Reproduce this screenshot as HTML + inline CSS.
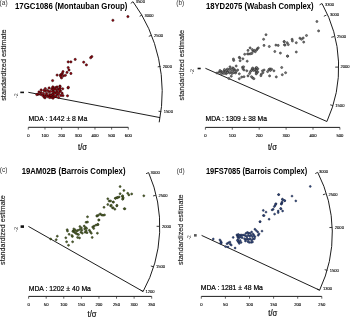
<!DOCTYPE html>
<html><head><meta charset="utf-8"><style>
html,body{margin:0;padding:0;background:#fff;}
svg{display:block;font-family:"Liberation Sans", sans-serif;filter:blur(0.3px);}
text{filter:grayscale(1);}
</style></head><body>
<svg width="350" height="317" viewBox="0 0 350 317">
<text x="-0.4" y="5.0" font-size="6.5" fill="#333">(a)</text>
<text x="15" y="9.0" font-size="8.4" font-weight="bold" fill="#000" textLength="112.4" lengthAdjust="spacingAndGlyphs">17GC1086 (Montauban Group)</text>
<text transform="translate(5.6,100.8) rotate(-90)" x="0" y="0" font-size="7.6" fill="#222" stroke="#222" stroke-width="0.15" textLength="71.4" lengthAdjust="spacingAndGlyphs">standardized estimate</text>
<path d="M133,1.7 A134.1,144.9 0 0 1 159.2,122.3" fill="none" stroke="#111" stroke-width="0.95"/>
<line x1="133.00" y1="1.70" x2="130.75" y2="3.37" stroke="#222" stroke-width="0.9"/>
<text x="135.80" y="3.15" font-size="4.1" fill="#000" stroke="#000" stroke-width="0.1">3500</text>
<line x1="142.10" y1="14.90" x2="139.68" y2="16.31" stroke="#222" stroke-width="0.9"/>
<text x="144.50" y="16.50" font-size="4.1" fill="#000" stroke="#000" stroke-width="0.1">3000</text>
<line x1="151.40" y1="35.30" x2="148.80" y2="36.33" stroke="#222" stroke-width="0.9"/>
<text x="154.00" y="36.95" font-size="4.1" fill="#000" stroke="#000" stroke-width="0.1">2500</text>
<line x1="160.50" y1="66.40" x2="157.74" y2="66.86" stroke="#222" stroke-width="0.9"/>
<text x="162.80" y="68.05" font-size="4.1" fill="#000" stroke="#000" stroke-width="0.1">2000</text>
<line x1="161.30" y1="111.60" x2="158.52" y2="111.25" stroke="#222" stroke-width="0.9"/>
<text x="163.80" y="113.25" font-size="4.1" fill="#000" stroke="#000" stroke-width="0.1">1500</text>
<line x1="28.3" y1="92.3" x2="160" y2="117.6" stroke="#111" stroke-width="0.95"/>
<rect x="20.3" y="91.6" width="3.7" height="1.6" fill="#111"/>
<text transform="translate(18.1,98.0) rotate(-90)" font-size="5" fill="#444" textLength="4.7" lengthAdjust="spacingAndGlyphs">-2</text>
<circle cx="38" cy="94.3" r="1.15" fill="#980010" stroke="#200000" stroke-width="0.5"/>
<circle cx="41.1" cy="90" r="1.15" fill="#980010" stroke="#200000" stroke-width="0.5"/>
<circle cx="41.1" cy="92.6" r="1.15" fill="#980010" stroke="#200000" stroke-width="0.5"/>
<circle cx="40.3" cy="94.3" r="1.15" fill="#980010" stroke="#200000" stroke-width="0.5"/>
<circle cx="42.6" cy="95.4" r="1.15" fill="#980010" stroke="#200000" stroke-width="0.5"/>
<circle cx="43.4" cy="93.4" r="1.15" fill="#980010" stroke="#200000" stroke-width="0.5"/>
<circle cx="44.6" cy="95.7" r="1.15" fill="#980010" stroke="#200000" stroke-width="0.5"/>
<circle cx="45.4" cy="91.1" r="1.15" fill="#980010" stroke="#200000" stroke-width="0.5"/>
<circle cx="46.6" cy="93.4" r="1.15" fill="#980010" stroke="#200000" stroke-width="0.5"/>
<circle cx="47.4" cy="90.3" r="1.15" fill="#980010" stroke="#200000" stroke-width="0.5"/>
<circle cx="47.4" cy="96.6" r="1.15" fill="#980010" stroke="#200000" stroke-width="0.5"/>
<circle cx="49.1" cy="88" r="1.15" fill="#980010" stroke="#200000" stroke-width="0.5"/>
<circle cx="48.9" cy="91.7" r="1.15" fill="#980010" stroke="#200000" stroke-width="0.5"/>
<circle cx="49.7" cy="94.3" r="1.15" fill="#980010" stroke="#200000" stroke-width="0.5"/>
<circle cx="50.6" cy="91.4" r="1.15" fill="#980010" stroke="#200000" stroke-width="0.5"/>
<circle cx="51.1" cy="97.4" r="1.15" fill="#980010" stroke="#200000" stroke-width="0.5"/>
<circle cx="51.7" cy="88.9" r="1.15" fill="#980010" stroke="#200000" stroke-width="0.5"/>
<circle cx="52.3" cy="94.3" r="1.15" fill="#980010" stroke="#200000" stroke-width="0.5"/>
<circle cx="52.9" cy="87.4" r="1.15" fill="#980010" stroke="#200000" stroke-width="0.5"/>
<circle cx="53.4" cy="91.1" r="1.15" fill="#980010" stroke="#200000" stroke-width="0.5"/>
<circle cx="53.4" cy="96.3" r="1.15" fill="#980010" stroke="#200000" stroke-width="0.5"/>
<circle cx="52.6" cy="80.6" r="1.15" fill="#980010" stroke="#200000" stroke-width="0.5"/>
<circle cx="52.9" cy="86.9" r="1.15" fill="#980010" stroke="#200000" stroke-width="0.5"/>
<circle cx="53.3" cy="89.5" r="1.15" fill="#980010" stroke="#200000" stroke-width="0.5"/>
<circle cx="52.9" cy="91.7" r="1.15" fill="#980010" stroke="#200000" stroke-width="0.5"/>
<circle cx="52.9" cy="94.5" r="1.15" fill="#980010" stroke="#200000" stroke-width="0.5"/>
<circle cx="54.5" cy="96.7" r="1.15" fill="#980010" stroke="#200000" stroke-width="0.5"/>
<circle cx="55.5" cy="87.6" r="1.15" fill="#980010" stroke="#200000" stroke-width="0.5"/>
<circle cx="55.2" cy="92.6" r="1.15" fill="#980010" stroke="#200000" stroke-width="0.5"/>
<circle cx="56.7" cy="90.1" r="1.15" fill="#980010" stroke="#200000" stroke-width="0.5"/>
<circle cx="57" cy="94.5" r="1.15" fill="#980010" stroke="#200000" stroke-width="0.5"/>
<circle cx="58.3" cy="88.8" r="1.15" fill="#980010" stroke="#200000" stroke-width="0.5"/>
<circle cx="58.6" cy="94.5" r="1.15" fill="#980010" stroke="#200000" stroke-width="0.5"/>
<circle cx="59.9" cy="86.3" r="1.15" fill="#980010" stroke="#200000" stroke-width="0.5"/>
<circle cx="60.2" cy="88.2" r="1.15" fill="#980010" stroke="#200000" stroke-width="0.5"/>
<circle cx="58.6" cy="97.4" r="1.15" fill="#980010" stroke="#200000" stroke-width="0.5"/>
<circle cx="62.1" cy="93.2" r="1.15" fill="#980010" stroke="#200000" stroke-width="0.5"/>
<circle cx="62.7" cy="88.8" r="1.15" fill="#980010" stroke="#200000" stroke-width="0.5"/>
<circle cx="68.1" cy="87.9" r="1.15" fill="#980010" stroke="#200000" stroke-width="0.5"/>
<circle cx="67.5" cy="95.8" r="1.15" fill="#980010" stroke="#200000" stroke-width="0.5"/>
<circle cx="45" cy="97.8" r="1.15" fill="#980010" stroke="#200000" stroke-width="0.5"/>
<circle cx="53" cy="98.2" r="1.15" fill="#980010" stroke="#200000" stroke-width="0.5"/>
<circle cx="57.0" cy="87.0" r="1.15" fill="#980010" stroke="#200000" stroke-width="0.5"/>
<circle cx="45.3" cy="88.6" r="1.15" fill="#980010" stroke="#200000" stroke-width="0.5"/>
<circle cx="43.8" cy="90.4" r="1.15" fill="#980010" stroke="#200000" stroke-width="0.5"/>
<circle cx="59.2" cy="92.4" r="1.15" fill="#980010" stroke="#200000" stroke-width="0.5"/>
<circle cx="49.1" cy="95.9" r="1.15" fill="#980010" stroke="#200000" stroke-width="0.5"/>
<circle cx="63.0" cy="95.6" r="1.15" fill="#980010" stroke="#200000" stroke-width="0.5"/>
<circle cx="44" cy="97" r="1.15" fill="#980010" stroke="#200000" stroke-width="0.5"/>
<circle cx="49.5" cy="97.5" r="1.15" fill="#980010" stroke="#200000" stroke-width="0.5"/>
<circle cx="56" cy="96.5" r="1.15" fill="#980010" stroke="#200000" stroke-width="0.5"/>
<circle cx="60.5" cy="91" r="1.15" fill="#980010" stroke="#200000" stroke-width="0.5"/>
<circle cx="61" cy="95.5" r="1.15" fill="#980010" stroke="#200000" stroke-width="0.5"/>
<circle cx="55" cy="89" r="1.15" fill="#980010" stroke="#200000" stroke-width="0.5"/>
<circle cx="57" cy="92" r="1.15" fill="#980010" stroke="#200000" stroke-width="0.5"/>
<circle cx="59.5" cy="90" r="1.15" fill="#980010" stroke="#200000" stroke-width="0.5"/>
<circle cx="46.5" cy="95" r="1.15" fill="#980010" stroke="#200000" stroke-width="0.5"/>
<circle cx="51" cy="95.5" r="1.15" fill="#980010" stroke="#200000" stroke-width="0.5"/>
<circle cx="54.5" cy="93.5" r="1.15" fill="#980010" stroke="#200000" stroke-width="0.5"/>
<circle cx="39" cy="92" r="1.15" fill="#980010" stroke="#200000" stroke-width="0.5"/>
<circle cx="36.8" cy="94.6" r="1.15" fill="#980010" stroke="#200000" stroke-width="0.5"/>
<circle cx="91.8" cy="56.6" r="1.15" fill="#980010" stroke="#200000" stroke-width="0.5"/>
<circle cx="90.7" cy="57.7" r="1.15" fill="#980010" stroke="#200000" stroke-width="0.5"/>
<circle cx="75.2" cy="59.4" r="1.15" fill="#980010" stroke="#200000" stroke-width="0.5"/>
<circle cx="68.2" cy="61.9" r="1.15" fill="#980010" stroke="#200000" stroke-width="0.5"/>
<circle cx="70.9" cy="61.9" r="1.15" fill="#980010" stroke="#200000" stroke-width="0.5"/>
<circle cx="83.7" cy="62.2" r="1.15" fill="#980010" stroke="#200000" stroke-width="0.5"/>
<circle cx="86.4" cy="64.9" r="1.15" fill="#980010" stroke="#200000" stroke-width="0.5"/>
<circle cx="68.2" cy="67.6" r="1.15" fill="#980010" stroke="#200000" stroke-width="0.5"/>
<circle cx="69" cy="70" r="1.15" fill="#980010" stroke="#200000" stroke-width="0.5"/>
<circle cx="67" cy="72.4" r="1.15" fill="#980010" stroke="#200000" stroke-width="0.5"/>
<circle cx="70.9" cy="73.5" r="1.15" fill="#980010" stroke="#200000" stroke-width="0.5"/>
<circle cx="63" cy="71.6" r="1.15" fill="#980010" stroke="#200000" stroke-width="0.5"/>
<circle cx="62.3" cy="73.5" r="1.15" fill="#980010" stroke="#200000" stroke-width="0.5"/>
<circle cx="61.5" cy="74.3" r="1.15" fill="#980010" stroke="#200000" stroke-width="0.5"/>
<circle cx="60.3" cy="75.1" r="1.15" fill="#980010" stroke="#200000" stroke-width="0.5"/>
<circle cx="57.1" cy="75.1" r="1.15" fill="#980010" stroke="#200000" stroke-width="0.5"/>
<circle cx="63.4" cy="75.9" r="1.15" fill="#980010" stroke="#200000" stroke-width="0.5"/>
<circle cx="65.4" cy="75.3" r="1.15" fill="#980010" stroke="#200000" stroke-width="0.5"/>
<circle cx="61.5" cy="77.9" r="1.15" fill="#980010" stroke="#200000" stroke-width="0.5"/>
<circle cx="60.7" cy="76.3" r="1.15" fill="#980010" stroke="#200000" stroke-width="0.5"/>
<circle cx="60" cy="86.2" r="1.15" fill="#980010" stroke="#200000" stroke-width="0.5"/>
<circle cx="68.3" cy="87.3" r="1.15" fill="#980010" stroke="#200000" stroke-width="0.5"/>
<circle cx="112.9" cy="20.3" r="1.15" fill="#980010" stroke="#200000" stroke-width="0.5"/>
<circle cx="127.9" cy="16.6" r="1.15" fill="#980010" stroke="#200000" stroke-width="0.5"/>
<text x="28.6" y="121.3" font-size="7.2" fill="#000" stroke="#000" stroke-width="0.22" textLength="58.8" lengthAdjust="spacingAndGlyphs">MDA : 1442 ± 8 Ma</text>
<line x1="28.3" y1="127.3" x2="128.3" y2="127.3" stroke="#111" stroke-width="0.95"/>
<line x1="28.30" y1="127.3" x2="28.30" y2="129.6" stroke="#222" stroke-width="0.7"/>
<text x="28.30" y="136.8" font-size="4.2" fill="#000" stroke="#000" stroke-width="0.12" text-anchor="middle">0</text>
<line x1="44.97" y1="127.3" x2="44.97" y2="129.6" stroke="#222" stroke-width="0.7"/>
<text x="44.97" y="136.8" font-size="4.2" fill="#000" stroke="#000" stroke-width="0.12" text-anchor="middle">100</text>
<line x1="61.63" y1="127.3" x2="61.63" y2="129.6" stroke="#222" stroke-width="0.7"/>
<text x="61.63" y="136.8" font-size="4.2" fill="#000" stroke="#000" stroke-width="0.12" text-anchor="middle">200</text>
<line x1="78.30" y1="127.3" x2="78.30" y2="129.6" stroke="#222" stroke-width="0.7"/>
<text x="78.30" y="136.8" font-size="4.2" fill="#000" stroke="#000" stroke-width="0.12" text-anchor="middle">300</text>
<line x1="94.97" y1="127.3" x2="94.97" y2="129.6" stroke="#222" stroke-width="0.7"/>
<text x="94.97" y="136.8" font-size="4.2" fill="#000" stroke="#000" stroke-width="0.12" text-anchor="middle">400</text>
<line x1="111.63" y1="127.3" x2="111.63" y2="129.6" stroke="#222" stroke-width="0.7"/>
<text x="111.63" y="136.8" font-size="4.2" fill="#000" stroke="#000" stroke-width="0.12" text-anchor="middle">500</text>
<line x1="128.30" y1="127.3" x2="128.30" y2="129.6" stroke="#222" stroke-width="0.7"/>
<text x="128.30" y="136.8" font-size="4.2" fill="#000" stroke="#000" stroke-width="0.12" text-anchor="middle">600</text>
<text x="78.1" y="150.1" font-size="8.2" fill="#111" stroke="#111" stroke-width="0.2" textLength="9" lengthAdjust="spacingAndGlyphs">t/σ</text>
<text x="176.3" y="5.0" font-size="6.5" fill="#333">(b)</text>
<text x="205.9" y="9.0" font-size="8.4" font-weight="bold" fill="#000" textLength="107.8" lengthAdjust="spacingAndGlyphs">18YD2075 (Wabash Complex)</text>
<text transform="translate(183.5,100.4) rotate(-90)" x="0" y="0" font-size="7.6" fill="#222" stroke="#222" stroke-width="0.15" textLength="70.4" lengthAdjust="spacingAndGlyphs">standardized estimate</text>
<path d="M322,3.5 A133.05,131.76 0 0 1 326.9,121.5" fill="none" stroke="#111" stroke-width="0.95"/>
<line x1="322.00" y1="3.50" x2="319.56" y2="4.88" stroke="#222" stroke-width="0.9"/>
<text x="324.90" y="6.45" font-size="4.1" fill="#000" stroke="#000" stroke-width="0.1">3300</text>
<line x1="326.40" y1="15.10" x2="323.85" y2="16.25" stroke="#222" stroke-width="0.9"/>
<text x="330.00" y="16.15" font-size="4.1" fill="#000" stroke="#000" stroke-width="0.1">3000</text>
<line x1="334.00" y1="36.60" x2="331.28" y2="37.28" stroke="#222" stroke-width="0.9"/>
<text x="336.90" y="37.95" font-size="4.1" fill="#000" stroke="#000" stroke-width="0.1">2500</text>
<line x1="338.00" y1="67.10" x2="335.20" y2="67.13" stroke="#222" stroke-width="0.9"/>
<text x="340.50" y="68.45" font-size="4.1" fill="#000" stroke="#000" stroke-width="0.1">2000</text>
<line x1="332.90" y1="105.60" x2="330.22" y2="104.80" stroke="#222" stroke-width="0.9"/>
<text x="335.30" y="107.25" font-size="4.1" fill="#000" stroke="#000" stroke-width="0.1">1500</text>
<line x1="205.4" y1="68.3" x2="326.9" y2="121.5" stroke="#111" stroke-width="0.95"/>
<rect x="197.6" y="67.7" width="3.1" height="1.6" fill="#111"/>
<text transform="translate(194.20000000000002,74.2) rotate(-90)" font-size="5" fill="#444" textLength="5.2" lengthAdjust="spacingAndGlyphs">-2</text>
<circle cx="219.1" cy="72.2" r="1.05" fill="#7a7a7a" stroke="#1a1a1a" stroke-width="0.5"/>
<circle cx="221" cy="71.4" r="1.05" fill="#7a7a7a" stroke="#1a1a1a" stroke-width="0.5"/>
<circle cx="222.2" cy="72.6" r="1.05" fill="#7a7a7a" stroke="#1a1a1a" stroke-width="0.5"/>
<circle cx="223.8" cy="71" r="1.05" fill="#7a7a7a" stroke="#1a1a1a" stroke-width="0.5"/>
<circle cx="225.4" cy="71.8" r="1.05" fill="#7a7a7a" stroke="#1a1a1a" stroke-width="0.5"/>
<circle cx="226.6" cy="70.3" r="1.05" fill="#7a7a7a" stroke="#1a1a1a" stroke-width="0.5"/>
<circle cx="226.2" cy="73.8" r="1.05" fill="#7a7a7a" stroke="#1a1a1a" stroke-width="0.5"/>
<circle cx="228.1" cy="71.8" r="1.05" fill="#7a7a7a" stroke="#1a1a1a" stroke-width="0.5"/>
<circle cx="229.3" cy="69.5" r="1.05" fill="#7a7a7a" stroke="#1a1a1a" stroke-width="0.5"/>
<circle cx="229.7" cy="73" r="1.05" fill="#7a7a7a" stroke="#1a1a1a" stroke-width="0.5"/>
<circle cx="230.9" cy="68.7" r="1.05" fill="#7a7a7a" stroke="#1a1a1a" stroke-width="0.5"/>
<circle cx="231.3" cy="71.4" r="1.05" fill="#7a7a7a" stroke="#1a1a1a" stroke-width="0.5"/>
<circle cx="232.9" cy="67.9" r="1.05" fill="#7a7a7a" stroke="#1a1a1a" stroke-width="0.5"/>
<circle cx="233.3" cy="70.3" r="1.05" fill="#7a7a7a" stroke="#1a1a1a" stroke-width="0.5"/>
<circle cx="233.7" cy="72.6" r="1.05" fill="#7a7a7a" stroke="#1a1a1a" stroke-width="0.5"/>
<circle cx="231.3" cy="76.2" r="1.05" fill="#7a7a7a" stroke="#1a1a1a" stroke-width="0.5"/>
<circle cx="228.9" cy="78.5" r="1.05" fill="#7a7a7a" stroke="#1a1a1a" stroke-width="0.5"/>
<circle cx="233.7" cy="60.4" r="1.05" fill="#7a7a7a" stroke="#1a1a1a" stroke-width="0.5"/>
<circle cx="217" cy="73" r="1.05" fill="#7a7a7a" stroke="#1a1a1a" stroke-width="0.5"/>
<circle cx="224.5" cy="69.5" r="1.05" fill="#7a7a7a" stroke="#1a1a1a" stroke-width="0.5"/>
<circle cx="227.5" cy="69" r="1.05" fill="#7a7a7a" stroke="#1a1a1a" stroke-width="0.5"/>
<circle cx="220" cy="70.5" r="1.05" fill="#7a7a7a" stroke="#1a1a1a" stroke-width="0.5"/>
<circle cx="230" cy="66.8" r="1.05" fill="#7a7a7a" stroke="#1a1a1a" stroke-width="0.5"/>
<circle cx="224" cy="73.5" r="1.05" fill="#7a7a7a" stroke="#1a1a1a" stroke-width="0.5"/>
<circle cx="227.5" cy="72.5" r="1.05" fill="#7a7a7a" stroke="#1a1a1a" stroke-width="0.5"/>
<circle cx="232" cy="73.5" r="1.05" fill="#7a7a7a" stroke="#1a1a1a" stroke-width="0.5"/>
<circle cx="235.5" cy="73" r="1.05" fill="#7a7a7a" stroke="#1a1a1a" stroke-width="0.5"/>
<circle cx="221.5" cy="73.8" r="1.05" fill="#7a7a7a" stroke="#1a1a1a" stroke-width="0.5"/>
<circle cx="239.3" cy="57.4" r="1.05" fill="#7a7a7a" stroke="#1a1a1a" stroke-width="0.5"/>
<circle cx="242.9" cy="58.8" r="1.05" fill="#7a7a7a" stroke="#1a1a1a" stroke-width="0.5"/>
<circle cx="240.1" cy="60.7" r="1.05" fill="#7a7a7a" stroke="#1a1a1a" stroke-width="0.5"/>
<circle cx="247.2" cy="61.2" r="1.05" fill="#7a7a7a" stroke="#1a1a1a" stroke-width="0.5"/>
<circle cx="236.2" cy="66" r="1.05" fill="#7a7a7a" stroke="#1a1a1a" stroke-width="0.5"/>
<circle cx="235" cy="70" r="1.05" fill="#7a7a7a" stroke="#1a1a1a" stroke-width="0.5"/>
<circle cx="233.8" cy="68.8" r="1.05" fill="#7a7a7a" stroke="#1a1a1a" stroke-width="0.5"/>
<circle cx="236.2" cy="71.6" r="1.05" fill="#7a7a7a" stroke="#1a1a1a" stroke-width="0.5"/>
<circle cx="237.7" cy="70" r="1.05" fill="#7a7a7a" stroke="#1a1a1a" stroke-width="0.5"/>
<circle cx="242.5" cy="67.2" r="1.05" fill="#7a7a7a" stroke="#1a1a1a" stroke-width="0.5"/>
<circle cx="243.6" cy="66.8" r="1.05" fill="#7a7a7a" stroke="#1a1a1a" stroke-width="0.5"/>
<circle cx="242.9" cy="68.8" r="1.05" fill="#7a7a7a" stroke="#1a1a1a" stroke-width="0.5"/>
<circle cx="244" cy="70" r="1.05" fill="#7a7a7a" stroke="#1a1a1a" stroke-width="0.5"/>
<circle cx="246.8" cy="70.8" r="1.05" fill="#7a7a7a" stroke="#1a1a1a" stroke-width="0.5"/>
<circle cx="239.3" cy="73.8" r="1.05" fill="#7a7a7a" stroke="#1a1a1a" stroke-width="0.5"/>
<circle cx="241.7" cy="77.1" r="1.05" fill="#7a7a7a" stroke="#1a1a1a" stroke-width="0.5"/>
<circle cx="244" cy="76.7" r="1.05" fill="#7a7a7a" stroke="#1a1a1a" stroke-width="0.5"/>
<circle cx="239.3" cy="78.7" r="1.05" fill="#7a7a7a" stroke="#1a1a1a" stroke-width="0.5"/>
<circle cx="248" cy="75.9" r="1.05" fill="#7a7a7a" stroke="#1a1a1a" stroke-width="0.5"/>
<circle cx="249.6" cy="73.5" r="1.05" fill="#7a7a7a" stroke="#1a1a1a" stroke-width="0.5"/>
<circle cx="250.4" cy="71.6" r="1.05" fill="#7a7a7a" stroke="#1a1a1a" stroke-width="0.5"/>
<circle cx="251.5" cy="70.4" r="1.05" fill="#7a7a7a" stroke="#1a1a1a" stroke-width="0.5"/>
<circle cx="252.3" cy="68.8" r="1.05" fill="#7a7a7a" stroke="#1a1a1a" stroke-width="0.5"/>
<circle cx="252.7" cy="68" r="1.05" fill="#7a7a7a" stroke="#1a1a1a" stroke-width="0.5"/>
<circle cx="253.5" cy="70.4" r="1.05" fill="#7a7a7a" stroke="#1a1a1a" stroke-width="0.5"/>
<circle cx="254.7" cy="69.6" r="1.05" fill="#7a7a7a" stroke="#1a1a1a" stroke-width="0.5"/>
<circle cx="255.9" cy="68" r="1.05" fill="#7a7a7a" stroke="#1a1a1a" stroke-width="0.5"/>
<circle cx="256.7" cy="68.8" r="1.05" fill="#7a7a7a" stroke="#1a1a1a" stroke-width="0.5"/>
<circle cx="255.9" cy="71.6" r="1.05" fill="#7a7a7a" stroke="#1a1a1a" stroke-width="0.5"/>
<circle cx="256.7" cy="73.1" r="1.05" fill="#7a7a7a" stroke="#1a1a1a" stroke-width="0.5"/>
<circle cx="251.5" cy="76.7" r="1.05" fill="#7a7a7a" stroke="#1a1a1a" stroke-width="0.5"/>
<circle cx="252.7" cy="77.9" r="1.05" fill="#7a7a7a" stroke="#1a1a1a" stroke-width="0.5"/>
<circle cx="253.9" cy="78.7" r="1.05" fill="#7a7a7a" stroke="#1a1a1a" stroke-width="0.5"/>
<circle cx="256.6" cy="67.6" r="1.05" fill="#7a7a7a" stroke="#1a1a1a" stroke-width="0.5"/>
<circle cx="257.8" cy="68.8" r="1.05" fill="#7a7a7a" stroke="#1a1a1a" stroke-width="0.5"/>
<circle cx="256.6" cy="70.8" r="1.05" fill="#7a7a7a" stroke="#1a1a1a" stroke-width="0.5"/>
<circle cx="257.8" cy="72" r="1.05" fill="#7a7a7a" stroke="#1a1a1a" stroke-width="0.5"/>
<circle cx="256.2" cy="73.9" r="1.05" fill="#7a7a7a" stroke="#1a1a1a" stroke-width="0.5"/>
<circle cx="262.5" cy="70.8" r="1.05" fill="#7a7a7a" stroke="#1a1a1a" stroke-width="0.5"/>
<circle cx="264.1" cy="70" r="1.05" fill="#7a7a7a" stroke="#1a1a1a" stroke-width="0.5"/>
<circle cx="262.9" cy="72.7" r="1.05" fill="#7a7a7a" stroke="#1a1a1a" stroke-width="0.5"/>
<circle cx="261.3" cy="74.3" r="1.05" fill="#7a7a7a" stroke="#1a1a1a" stroke-width="0.5"/>
<circle cx="260.9" cy="75.7" r="1.05" fill="#7a7a7a" stroke="#1a1a1a" stroke-width="0.5"/>
<circle cx="267.6" cy="71.6" r="1.05" fill="#7a7a7a" stroke="#1a1a1a" stroke-width="0.5"/>
<circle cx="268.8" cy="69.6" r="1.05" fill="#7a7a7a" stroke="#1a1a1a" stroke-width="0.5"/>
<circle cx="270" cy="68.8" r="1.05" fill="#7a7a7a" stroke="#1a1a1a" stroke-width="0.5"/>
<circle cx="271.6" cy="69.2" r="1.05" fill="#7a7a7a" stroke="#1a1a1a" stroke-width="0.5"/>
<circle cx="270.4" cy="70.4" r="1.05" fill="#7a7a7a" stroke="#1a1a1a" stroke-width="0.5"/>
<circle cx="273.9" cy="70.8" r="1.05" fill="#7a7a7a" stroke="#1a1a1a" stroke-width="0.5"/>
<circle cx="269.6" cy="75.9" r="1.05" fill="#7a7a7a" stroke="#1a1a1a" stroke-width="0.5"/>
<circle cx="276.3" cy="76.9" r="1.05" fill="#7a7a7a" stroke="#1a1a1a" stroke-width="0.5"/>
<circle cx="287.6" cy="56.2" r="1.05" fill="#7a7a7a" stroke="#1a1a1a" stroke-width="0.5"/>
<circle cx="281.7" cy="67.5" r="1.05" fill="#7a7a7a" stroke="#1a1a1a" stroke-width="0.5"/>
<circle cx="285.6" cy="72.7" r="1.05" fill="#7a7a7a" stroke="#1a1a1a" stroke-width="0.5"/>
<circle cx="282.3" cy="74.7" r="1.05" fill="#7a7a7a" stroke="#1a1a1a" stroke-width="0.5"/>
<circle cx="233.4" cy="59" r="1.05" fill="#7a7a7a" stroke="#1a1a1a" stroke-width="0.5"/>
<circle cx="239.9" cy="58" r="1.05" fill="#7a7a7a" stroke="#1a1a1a" stroke-width="0.5"/>
<circle cx="244.7" cy="54.3" r="1.05" fill="#7a7a7a" stroke="#1a1a1a" stroke-width="0.5"/>
<circle cx="247.6" cy="53.9" r="1.05" fill="#7a7a7a" stroke="#1a1a1a" stroke-width="0.5"/>
<circle cx="248.9" cy="54" r="1.05" fill="#7a7a7a" stroke="#1a1a1a" stroke-width="0.5"/>
<circle cx="250.6" cy="53.7" r="1.05" fill="#7a7a7a" stroke="#1a1a1a" stroke-width="0.5"/>
<circle cx="248" cy="50.4" r="1.05" fill="#7a7a7a" stroke="#1a1a1a" stroke-width="0.5"/>
<circle cx="250.1" cy="47.9" r="1.05" fill="#7a7a7a" stroke="#1a1a1a" stroke-width="0.5"/>
<circle cx="252.3" cy="49.6" r="1.05" fill="#7a7a7a" stroke="#1a1a1a" stroke-width="0.5"/>
<circle cx="253.1" cy="51.3" r="1.05" fill="#7a7a7a" stroke="#1a1a1a" stroke-width="0.5"/>
<circle cx="254.4" cy="50.4" r="1.05" fill="#7a7a7a" stroke="#1a1a1a" stroke-width="0.5"/>
<circle cx="255.3" cy="51.7" r="1.05" fill="#7a7a7a" stroke="#1a1a1a" stroke-width="0.5"/>
<circle cx="256.6" cy="50" r="1.05" fill="#7a7a7a" stroke="#1a1a1a" stroke-width="0.5"/>
<circle cx="257.4" cy="48.7" r="1.05" fill="#7a7a7a" stroke="#1a1a1a" stroke-width="0.5"/>
<circle cx="258.3" cy="47.9" r="1.05" fill="#7a7a7a" stroke="#1a1a1a" stroke-width="0.5"/>
<circle cx="251.9" cy="53.4" r="1.05" fill="#7a7a7a" stroke="#1a1a1a" stroke-width="0.5"/>
<circle cx="266" cy="34.7" r="1.05" fill="#7a7a7a" stroke="#1a1a1a" stroke-width="0.5"/>
<circle cx="263.6" cy="39.3" r="1.05" fill="#7a7a7a" stroke="#1a1a1a" stroke-width="0.5"/>
<circle cx="264" cy="45.4" r="1.05" fill="#7a7a7a" stroke="#1a1a1a" stroke-width="0.5"/>
<circle cx="269.3" cy="46.5" r="1.05" fill="#7a7a7a" stroke="#1a1a1a" stroke-width="0.5"/>
<circle cx="275.9" cy="45.1" r="1.05" fill="#7a7a7a" stroke="#1a1a1a" stroke-width="0.5"/>
<circle cx="278.2" cy="45.4" r="1.05" fill="#7a7a7a" stroke="#1a1a1a" stroke-width="0.5"/>
<circle cx="274.8" cy="51.5" r="1.05" fill="#7a7a7a" stroke="#1a1a1a" stroke-width="0.5"/>
<circle cx="280.4" cy="53.1" r="1.05" fill="#7a7a7a" stroke="#1a1a1a" stroke-width="0.5"/>
<circle cx="284.2" cy="41.5" r="1.05" fill="#7a7a7a" stroke="#1a1a1a" stroke-width="0.5"/>
<circle cx="284.5" cy="44.8" r="1.05" fill="#7a7a7a" stroke="#1a1a1a" stroke-width="0.5"/>
<circle cx="306.5" cy="35.5" r="1.05" fill="#7a7a7a" stroke="#1a1a1a" stroke-width="0.5"/>
<circle cx="299.9" cy="38.2" r="1.05" fill="#7a7a7a" stroke="#1a1a1a" stroke-width="0.5"/>
<circle cx="301.5" cy="39.3" r="1.05" fill="#7a7a7a" stroke="#1a1a1a" stroke-width="0.5"/>
<circle cx="303.2" cy="38" r="1.05" fill="#7a7a7a" stroke="#1a1a1a" stroke-width="0.5"/>
<circle cx="303.7" cy="42.1" r="1.05" fill="#7a7a7a" stroke="#1a1a1a" stroke-width="0.5"/>
<circle cx="296.3" cy="42.7" r="1.05" fill="#7a7a7a" stroke="#1a1a1a" stroke-width="0.5"/>
<circle cx="292.1" cy="39.3" r="1.05" fill="#7a7a7a" stroke="#1a1a1a" stroke-width="0.5"/>
<circle cx="292.4" cy="41" r="1.05" fill="#7a7a7a" stroke="#1a1a1a" stroke-width="0.5"/>
<circle cx="284.2" cy="41.8" r="1.05" fill="#7a7a7a" stroke="#1a1a1a" stroke-width="0.5"/>
<circle cx="287.2" cy="42.7" r="1.05" fill="#7a7a7a" stroke="#1a1a1a" stroke-width="0.5"/>
<circle cx="288.3" cy="44.6" r="1.05" fill="#7a7a7a" stroke="#1a1a1a" stroke-width="0.5"/>
<circle cx="285" cy="45.1" r="1.05" fill="#7a7a7a" stroke="#1a1a1a" stroke-width="0.5"/>
<circle cx="296.3" cy="52" r="1.05" fill="#7a7a7a" stroke="#1a1a1a" stroke-width="0.5"/>
<circle cx="287.5" cy="56.1" r="1.05" fill="#7a7a7a" stroke="#1a1a1a" stroke-width="0.5"/>
<circle cx="316.9" cy="21.5" r="1.05" fill="#7a7a7a" stroke="#1a1a1a" stroke-width="0.5"/>
<circle cx="318.6" cy="30.9" r="1.05" fill="#7a7a7a" stroke="#1a1a1a" stroke-width="0.5"/>
<text x="205.6" y="120.9" font-size="7.2" fill="#000" stroke="#000" stroke-width="0.22" textLength="61.4" lengthAdjust="spacingAndGlyphs">MDA : 1309 ± 38 Ma</text>
<line x1="205.4" y1="127.4" x2="339.9" y2="127.4" stroke="#111" stroke-width="0.95"/>
<line x1="205.40" y1="127.4" x2="205.40" y2="129.70000000000002" stroke="#222" stroke-width="0.7"/>
<text x="205.40" y="136.9" font-size="4.2" fill="#000" stroke="#000" stroke-width="0.12" text-anchor="middle">0</text>
<line x1="232.30" y1="127.4" x2="232.30" y2="129.70000000000002" stroke="#222" stroke-width="0.7"/>
<text x="232.30" y="136.9" font-size="4.2" fill="#000" stroke="#000" stroke-width="0.12" text-anchor="middle">100</text>
<line x1="259.20" y1="127.4" x2="259.20" y2="129.70000000000002" stroke="#222" stroke-width="0.7"/>
<text x="259.20" y="136.9" font-size="4.2" fill="#000" stroke="#000" stroke-width="0.12" text-anchor="middle">200</text>
<line x1="286.10" y1="127.4" x2="286.10" y2="129.70000000000002" stroke="#222" stroke-width="0.7"/>
<text x="286.10" y="136.9" font-size="4.2" fill="#000" stroke="#000" stroke-width="0.12" text-anchor="middle">300</text>
<line x1="313.00" y1="127.4" x2="313.00" y2="129.70000000000002" stroke="#222" stroke-width="0.7"/>
<text x="313.00" y="136.9" font-size="4.2" fill="#000" stroke="#000" stroke-width="0.12" text-anchor="middle">400</text>
<line x1="339.90" y1="127.4" x2="339.90" y2="129.70000000000002" stroke="#222" stroke-width="0.7"/>
<text x="339.90" y="136.9" font-size="4.2" fill="#000" stroke="#000" stroke-width="0.12" text-anchor="middle">500</text>
<text x="267.9" y="149.5" font-size="8.2" fill="#111" stroke="#111" stroke-width="0.2" textLength="9" lengthAdjust="spacingAndGlyphs">t/σ</text>
<text x="-0.2" y="172.3" font-size="6.5" fill="#333">(c)</text>
<text x="21.7" y="174.3" font-size="8.4" font-weight="bold" fill="#000" textLength="103.8" lengthAdjust="spacingAndGlyphs">19AM02B (Barrois Complex)</text>
<text transform="translate(5.2,264.9) rotate(-90)" x="0" y="0" font-size="7.6" fill="#222" stroke="#222" stroke-width="0.15" textLength="69.5" lengthAdjust="spacingAndGlyphs">standardized estimate</text>
<path d="M148.6,172.6 A131.15,133.3 0 0 1 143.1,291.5" fill="none" stroke="#111" stroke-width="0.95"/>
<line x1="148.60" y1="172.60" x2="146.03" y2="173.71" stroke="#222" stroke-width="0.9"/>
<text x="150.60" y="174.25" font-size="4.1" fill="#000" stroke="#000" stroke-width="0.1">3000</text>
<line x1="155.80" y1="195.30" x2="153.08" y2="195.94" stroke="#222" stroke-width="0.9"/>
<text x="158.50" y="196.55" font-size="4.1" fill="#000" stroke="#000" stroke-width="0.1">2500</text>
<line x1="159.40" y1="226.30" x2="156.60" y2="226.30" stroke="#222" stroke-width="0.9"/>
<text x="161.90" y="227.95" font-size="4.1" fill="#000" stroke="#000" stroke-width="0.1">2000</text>
<line x1="153.50" y1="266.80" x2="150.83" y2="265.96" stroke="#222" stroke-width="0.9"/>
<text x="155.90" y="267.95" font-size="4.1" fill="#000" stroke="#000" stroke-width="0.1">1500</text>
<line x1="143.10" y1="291.50" x2="140.65" y2="290.15" stroke="#222" stroke-width="0.9"/>
<text x="145.50" y="293.15" font-size="4.1" fill="#000" stroke="#000" stroke-width="0.1">1200</text>
<line x1="28.4" y1="226.4" x2="143.1" y2="291.5" stroke="#111" stroke-width="0.95"/>
<rect x="20.6" y="225.3" width="3.4" height="2.6" fill="#111"/>
<text transform="translate(17.900000000000002,232.0) rotate(-90)" font-size="5" fill="#444" textLength="5.1" lengthAdjust="spacingAndGlyphs">-2</text>
<circle cx="50.7" cy="239" r="1.0" fill="#55692c" stroke="#1c240c" stroke-width="0.5"/>
<circle cx="56.2" cy="239.7" r="1.0" fill="#55692c" stroke="#1c240c" stroke-width="0.5"/>
<circle cx="57.3" cy="236.2" r="1.0" fill="#55692c" stroke="#1c240c" stroke-width="0.5"/>
<circle cx="67.2" cy="229.7" r="1.0" fill="#55692c" stroke="#1c240c" stroke-width="0.5"/>
<circle cx="67.5" cy="231.1" r="1.0" fill="#55692c" stroke="#1c240c" stroke-width="0.5"/>
<circle cx="69.1" cy="234.3" r="1.0" fill="#55692c" stroke="#1c240c" stroke-width="0.5"/>
<circle cx="72.4" cy="236.4" r="1.0" fill="#55692c" stroke="#1c240c" stroke-width="0.5"/>
<circle cx="73.4" cy="231.1" r="1.0" fill="#55692c" stroke="#1c240c" stroke-width="0.5"/>
<circle cx="65.8" cy="237.8" r="1.0" fill="#55692c" stroke="#1c240c" stroke-width="0.5"/>
<circle cx="66.6" cy="241.8" r="1.0" fill="#55692c" stroke="#1c240c" stroke-width="0.5"/>
<circle cx="72.6" cy="241.8" r="1.0" fill="#55692c" stroke="#1c240c" stroke-width="0.5"/>
<circle cx="68.5" cy="245.3" r="1.0" fill="#55692c" stroke="#1c240c" stroke-width="0.5"/>
<circle cx="87.5" cy="216.8" r="1.0" fill="#55692c" stroke="#1c240c" stroke-width="0.5"/>
<circle cx="97" cy="216.1" r="1.0" fill="#55692c" stroke="#1c240c" stroke-width="0.5"/>
<circle cx="98.4" cy="215.2" r="1.0" fill="#55692c" stroke="#1c240c" stroke-width="0.5"/>
<circle cx="98.9" cy="219.9" r="1.0" fill="#55692c" stroke="#1c240c" stroke-width="0.5"/>
<circle cx="86.1" cy="222.3" r="1.0" fill="#55692c" stroke="#1c240c" stroke-width="0.5"/>
<circle cx="87.5" cy="222.1" r="1.0" fill="#55692c" stroke="#1c240c" stroke-width="0.5"/>
<circle cx="79.9" cy="226.6" r="1.0" fill="#55692c" stroke="#1c240c" stroke-width="0.5"/>
<circle cx="81.4" cy="228" r="1.0" fill="#55692c" stroke="#1c240c" stroke-width="0.5"/>
<circle cx="79.9" cy="229.4" r="1.0" fill="#55692c" stroke="#1c240c" stroke-width="0.5"/>
<circle cx="81.8" cy="230.3" r="1.0" fill="#55692c" stroke="#1c240c" stroke-width="0.5"/>
<circle cx="80.9" cy="232.2" r="1.0" fill="#55692c" stroke="#1c240c" stroke-width="0.5"/>
<circle cx="82.3" cy="233.2" r="1.0" fill="#55692c" stroke="#1c240c" stroke-width="0.5"/>
<circle cx="73.8" cy="228.9" r="1.0" fill="#55692c" stroke="#1c240c" stroke-width="0.5"/>
<circle cx="75.2" cy="229.9" r="1.0" fill="#55692c" stroke="#1c240c" stroke-width="0.5"/>
<circle cx="72.8" cy="231.3" r="1.0" fill="#55692c" stroke="#1c240c" stroke-width="0.5"/>
<circle cx="74.3" cy="232.2" r="1.0" fill="#55692c" stroke="#1c240c" stroke-width="0.5"/>
<circle cx="75.7" cy="233.2" r="1.0" fill="#55692c" stroke="#1c240c" stroke-width="0.5"/>
<circle cx="77.1" cy="234.1" r="1.0" fill="#55692c" stroke="#1c240c" stroke-width="0.5"/>
<circle cx="78.5" cy="234.6" r="1.0" fill="#55692c" stroke="#1c240c" stroke-width="0.5"/>
<circle cx="76.6" cy="231.3" r="1.0" fill="#55692c" stroke="#1c240c" stroke-width="0.5"/>
<circle cx="78" cy="230.3" r="1.0" fill="#55692c" stroke="#1c240c" stroke-width="0.5"/>
<circle cx="84.2" cy="226.1" r="1.0" fill="#55692c" stroke="#1c240c" stroke-width="0.5"/>
<circle cx="85.6" cy="227.5" r="1.0" fill="#55692c" stroke="#1c240c" stroke-width="0.5"/>
<circle cx="84.7" cy="228.9" r="1.0" fill="#55692c" stroke="#1c240c" stroke-width="0.5"/>
<circle cx="86.1" cy="230.8" r="1.0" fill="#55692c" stroke="#1c240c" stroke-width="0.5"/>
<circle cx="85.1" cy="232.2" r="1.0" fill="#55692c" stroke="#1c240c" stroke-width="0.5"/>
<circle cx="87" cy="232.7" r="1.0" fill="#55692c" stroke="#1c240c" stroke-width="0.5"/>
<circle cx="86.6" cy="228.4" r="1.0" fill="#55692c" stroke="#1c240c" stroke-width="0.5"/>
<circle cx="89.4" cy="230.3" r="1.0" fill="#55692c" stroke="#1c240c" stroke-width="0.5"/>
<circle cx="90.3" cy="231.8" r="1.0" fill="#55692c" stroke="#1c240c" stroke-width="0.5"/>
<circle cx="91.3" cy="233.2" r="1.0" fill="#55692c" stroke="#1c240c" stroke-width="0.5"/>
<circle cx="92.7" cy="227" r="1.0" fill="#55692c" stroke="#1c240c" stroke-width="0.5"/>
<circle cx="94.1" cy="226.1" r="1.0" fill="#55692c" stroke="#1c240c" stroke-width="0.5"/>
<circle cx="96" cy="225.1" r="1.0" fill="#55692c" stroke="#1c240c" stroke-width="0.5"/>
<circle cx="97.9" cy="224.7" r="1.0" fill="#55692c" stroke="#1c240c" stroke-width="0.5"/>
<circle cx="93.7" cy="228.4" r="1.0" fill="#55692c" stroke="#1c240c" stroke-width="0.5"/>
<circle cx="97.4" cy="233.2" r="1.0" fill="#55692c" stroke="#1c240c" stroke-width="0.5"/>
<circle cx="71.9" cy="235.5" r="1.0" fill="#55692c" stroke="#1c240c" stroke-width="0.5"/>
<circle cx="77.6" cy="237.4" r="1.0" fill="#55692c" stroke="#1c240c" stroke-width="0.5"/>
<circle cx="79.5" cy="237.9" r="1.0" fill="#55692c" stroke="#1c240c" stroke-width="0.5"/>
<circle cx="92.2" cy="237.4" r="1.0" fill="#55692c" stroke="#1c240c" stroke-width="0.5"/>
<circle cx="107.8" cy="198.8" r="1.0" fill="#55692c" stroke="#1c240c" stroke-width="0.5"/>
<circle cx="109.2" cy="201.1" r="1.0" fill="#55692c" stroke="#1c240c" stroke-width="0.5"/>
<circle cx="113.4" cy="202.1" r="1.0" fill="#55692c" stroke="#1c240c" stroke-width="0.5"/>
<circle cx="115.3" cy="198.3" r="1.0" fill="#55692c" stroke="#1c240c" stroke-width="0.5"/>
<circle cx="117.2" cy="197.4" r="1.0" fill="#55692c" stroke="#1c240c" stroke-width="0.5"/>
<circle cx="119.1" cy="196.9" r="1.0" fill="#55692c" stroke="#1c240c" stroke-width="0.5"/>
<circle cx="122.4" cy="196.4" r="1.0" fill="#55692c" stroke="#1c240c" stroke-width="0.5"/>
<circle cx="122.9" cy="198.8" r="1.0" fill="#55692c" stroke="#1c240c" stroke-width="0.5"/>
<circle cx="107.8" cy="204.5" r="1.0" fill="#55692c" stroke="#1c240c" stroke-width="0.5"/>
<circle cx="110.6" cy="205.9" r="1.0" fill="#55692c" stroke="#1c240c" stroke-width="0.5"/>
<circle cx="112.5" cy="207.8" r="1.0" fill="#55692c" stroke="#1c240c" stroke-width="0.5"/>
<circle cx="114.9" cy="209.2" r="1.0" fill="#55692c" stroke="#1c240c" stroke-width="0.5"/>
<circle cx="116.8" cy="205.9" r="1.0" fill="#55692c" stroke="#1c240c" stroke-width="0.5"/>
<circle cx="124.3" cy="208.7" r="1.0" fill="#55692c" stroke="#1c240c" stroke-width="0.5"/>
<circle cx="104" cy="207.3" r="1.0" fill="#55692c" stroke="#1c240c" stroke-width="0.5"/>
<circle cx="100.2" cy="213.9" r="1.0" fill="#55692c" stroke="#1c240c" stroke-width="0.5"/>
<circle cx="101.6" cy="214.9" r="1.0" fill="#55692c" stroke="#1c240c" stroke-width="0.5"/>
<circle cx="103" cy="215.3" r="1.0" fill="#55692c" stroke="#1c240c" stroke-width="0.5"/>
<circle cx="104.5" cy="214.9" r="1.0" fill="#55692c" stroke="#1c240c" stroke-width="0.5"/>
<circle cx="96.9" cy="215.8" r="1.0" fill="#55692c" stroke="#1c240c" stroke-width="0.5"/>
<circle cx="98.8" cy="220.1" r="1.0" fill="#55692c" stroke="#1c240c" stroke-width="0.5"/>
<circle cx="97.8" cy="224.3" r="1.0" fill="#55692c" stroke="#1c240c" stroke-width="0.5"/>
<circle cx="120.1" cy="186.6" r="1.0" fill="#55692c" stroke="#1c240c" stroke-width="0.5"/>
<circle cx="123.9" cy="190.4" r="1.0" fill="#55692c" stroke="#1c240c" stroke-width="0.5"/>
<circle cx="120.1" cy="193.7" r="1.0" fill="#55692c" stroke="#1c240c" stroke-width="0.5"/>
<circle cx="127.7" cy="193.3" r="1.0" fill="#55692c" stroke="#1c240c" stroke-width="0.5"/>
<circle cx="128.9" cy="194.9" r="1.0" fill="#55692c" stroke="#1c240c" stroke-width="0.5"/>
<circle cx="131.7" cy="193.9" r="1.0" fill="#55692c" stroke="#1c240c" stroke-width="0.5"/>
<circle cx="122.6" cy="195.8" r="1.0" fill="#55692c" stroke="#1c240c" stroke-width="0.5"/>
<circle cx="123.2" cy="197.7" r="1.0" fill="#55692c" stroke="#1c240c" stroke-width="0.5"/>
<circle cx="122.6" cy="199.2" r="1.0" fill="#55692c" stroke="#1c240c" stroke-width="0.5"/>
<circle cx="115.7" cy="198.3" r="1.0" fill="#55692c" stroke="#1c240c" stroke-width="0.5"/>
<circle cx="117.6" cy="197.7" r="1.0" fill="#55692c" stroke="#1c240c" stroke-width="0.5"/>
<circle cx="113.2" cy="202.1" r="1.0" fill="#55692c" stroke="#1c240c" stroke-width="0.5"/>
<circle cx="110.6" cy="200.9" r="1.0" fill="#55692c" stroke="#1c240c" stroke-width="0.5"/>
<circle cx="116.9" cy="205.3" r="1.0" fill="#55692c" stroke="#1c240c" stroke-width="0.5"/>
<circle cx="111.3" cy="205.3" r="1.0" fill="#55692c" stroke="#1c240c" stroke-width="0.5"/>
<circle cx="113.2" cy="207.8" r="1.0" fill="#55692c" stroke="#1c240c" stroke-width="0.5"/>
<circle cx="124.9" cy="208.8" r="1.0" fill="#55692c" stroke="#1c240c" stroke-width="0.5"/>
<circle cx="143.8" cy="195.8" r="1.0" fill="#55692c" stroke="#1c240c" stroke-width="0.5"/>
<text x="28.7" y="290.6" font-size="7.2" fill="#000" stroke="#000" stroke-width="0.22" textLength="62.2" lengthAdjust="spacingAndGlyphs">MDA : 1202 ± 40 Ma</text>
<line x1="28.6" y1="296.4" x2="151.7" y2="296.4" stroke="#111" stroke-width="0.95"/>
<line x1="28.60" y1="296.4" x2="28.60" y2="298.7" stroke="#222" stroke-width="0.7"/>
<text x="28.60" y="305.9" font-size="4.2" fill="#000" stroke="#000" stroke-width="0.12" text-anchor="middle">0</text>
<line x1="46.19" y1="296.4" x2="46.19" y2="298.7" stroke="#222" stroke-width="0.7"/>
<text x="46.19" y="305.9" font-size="4.2" fill="#000" stroke="#000" stroke-width="0.12" text-anchor="middle">50</text>
<line x1="63.77" y1="296.4" x2="63.77" y2="298.7" stroke="#222" stroke-width="0.7"/>
<text x="63.77" y="305.9" font-size="4.2" fill="#000" stroke="#000" stroke-width="0.12" text-anchor="middle">100</text>
<line x1="81.36" y1="296.4" x2="81.36" y2="298.7" stroke="#222" stroke-width="0.7"/>
<text x="81.36" y="305.9" font-size="4.2" fill="#000" stroke="#000" stroke-width="0.12" text-anchor="middle">150</text>
<line x1="98.94" y1="296.4" x2="98.94" y2="298.7" stroke="#222" stroke-width="0.7"/>
<text x="98.94" y="305.9" font-size="4.2" fill="#000" stroke="#000" stroke-width="0.12" text-anchor="middle">200</text>
<line x1="116.53" y1="296.4" x2="116.53" y2="298.7" stroke="#222" stroke-width="0.7"/>
<text x="116.53" y="305.9" font-size="4.2" fill="#000" stroke="#000" stroke-width="0.12" text-anchor="middle">250</text>
<line x1="134.11" y1="296.4" x2="134.11" y2="298.7" stroke="#222" stroke-width="0.7"/>
<text x="134.11" y="305.9" font-size="4.2" fill="#000" stroke="#000" stroke-width="0.12" text-anchor="middle">300</text>
<line x1="151.70" y1="296.4" x2="151.70" y2="298.7" stroke="#222" stroke-width="0.7"/>
<text x="151.70" y="305.9" font-size="4.2" fill="#000" stroke="#000" stroke-width="0.12" text-anchor="middle">350</text>
<text x="87.6" y="316.7" font-size="8.2" fill="#111" stroke="#111" stroke-width="0.2" textLength="9" lengthAdjust="spacingAndGlyphs">t/σ</text>
<text x="176.7" y="172.7" font-size="6.5" fill="#333">(d)</text>
<text x="205.9" y="174.3" font-size="8.4" font-weight="bold" fill="#000" textLength="101.3" lengthAdjust="spacingAndGlyphs">19FS7085 (Barrois Complex)</text>
<text transform="translate(183.2,264.9) rotate(-90)" x="0" y="0" font-size="7.6" fill="#222" stroke="#222" stroke-width="0.15" textLength="70.4" lengthAdjust="spacingAndGlyphs">standardized estimate</text>
<path d="M317.7,172.3 A131.1,132.7 0 0 1 319.6,290.2" fill="none" stroke="#111" stroke-width="0.95"/>
<line x1="317.70" y1="172.30" x2="315.23" y2="173.61" stroke="#222" stroke-width="0.9"/>
<text x="319.00" y="173.45" font-size="4.1" fill="#000" stroke="#000" stroke-width="0.1">3000</text>
<line x1="325.60" y1="193.90" x2="322.94" y2="194.77" stroke="#222" stroke-width="0.9"/>
<text x="328.50" y="195.55" font-size="4.1" fill="#000" stroke="#000" stroke-width="0.1">2500</text>
<line x1="332.20" y1="227.40" x2="329.40" y2="227.57" stroke="#222" stroke-width="0.9"/>
<text x="334.80" y="228.65" font-size="4.1" fill="#000" stroke="#000" stroke-width="0.1">2000</text>
<line x1="327.40" y1="270.40" x2="324.70" y2="269.67" stroke="#222" stroke-width="0.9"/>
<text x="329.70" y="271.85" font-size="4.1" fill="#000" stroke="#000" stroke-width="0.1">1500</text>
<line x1="319.60" y1="290.20" x2="317.05" y2="289.04" stroke="#222" stroke-width="0.9"/>
<text x="323.00" y="290.05" font-size="4.1" fill="#000" stroke="#000" stroke-width="0.1">1300</text>
<line x1="201.6" y1="235.4" x2="319.6" y2="290.2" stroke="#111" stroke-width="0.95"/>
<rect x="194.0" y="234.1" width="2.7" height="2.5" fill="#555"/>
<text transform="translate(191.10000000000002,239.5) rotate(-90)" font-size="5" fill="#444" textLength="4.3" lengthAdjust="spacingAndGlyphs">-2</text>
<circle cx="213.3" cy="239" r="0.95" fill="#34508f" stroke="#101830" stroke-width="0.5"/>
<circle cx="219.9" cy="239.9" r="0.95" fill="#34508f" stroke="#101830" stroke-width="0.5"/>
<circle cx="220.9" cy="241.4" r="0.95" fill="#34508f" stroke="#101830" stroke-width="0.5"/>
<circle cx="221.4" cy="242.8" r="0.95" fill="#34508f" stroke="#101830" stroke-width="0.5"/>
<circle cx="220.6" cy="243.2" r="0.95" fill="#34508f" stroke="#101830" stroke-width="0.5"/>
<circle cx="227" cy="243.7" r="0.95" fill="#34508f" stroke="#101830" stroke-width="0.5"/>
<circle cx="228.4" cy="242.8" r="0.95" fill="#34508f" stroke="#101830" stroke-width="0.5"/>
<circle cx="229.9" cy="242.1" r="0.95" fill="#34508f" stroke="#101830" stroke-width="0.5"/>
<circle cx="230.3" cy="244.2" r="0.95" fill="#34508f" stroke="#101830" stroke-width="0.5"/>
<circle cx="231.3" cy="245.1" r="0.95" fill="#34508f" stroke="#101830" stroke-width="0.5"/>
<circle cx="225.6" cy="246.6" r="0.95" fill="#34508f" stroke="#101830" stroke-width="0.5"/>
<circle cx="228" cy="247" r="0.95" fill="#34508f" stroke="#101830" stroke-width="0.5"/>
<circle cx="233.2" cy="237.4" r="0.95" fill="#34508f" stroke="#101830" stroke-width="0.5"/>
<circle cx="235.1" cy="248" r="0.95" fill="#34508f" stroke="#101830" stroke-width="0.5"/>
<circle cx="237.4" cy="235.7" r="0.95" fill="#34508f" stroke="#101830" stroke-width="0.5"/>
<circle cx="238.4" cy="237.1" r="0.95" fill="#34508f" stroke="#101830" stroke-width="0.5"/>
<circle cx="237.9" cy="239.5" r="0.95" fill="#34508f" stroke="#101830" stroke-width="0.5"/>
<circle cx="238.4" cy="241.8" r="0.95" fill="#34508f" stroke="#101830" stroke-width="0.5"/>
<circle cx="263.4" cy="215.5" r="0.95" fill="#34508f" stroke="#101830" stroke-width="0.5"/>
<circle cx="260.1" cy="221.6" r="0.95" fill="#34508f" stroke="#101830" stroke-width="0.5"/>
<circle cx="254.9" cy="229.2" r="0.95" fill="#34508f" stroke="#101830" stroke-width="0.5"/>
<circle cx="256.3" cy="230.6" r="0.95" fill="#34508f" stroke="#101830" stroke-width="0.5"/>
<circle cx="257.7" cy="232" r="0.95" fill="#34508f" stroke="#101830" stroke-width="0.5"/>
<circle cx="262" cy="231.1" r="0.95" fill="#34508f" stroke="#101830" stroke-width="0.5"/>
<circle cx="259.1" cy="233.9" r="0.95" fill="#34508f" stroke="#101830" stroke-width="0.5"/>
<circle cx="258.2" cy="235.3" r="0.95" fill="#34508f" stroke="#101830" stroke-width="0.5"/>
<circle cx="236.9" cy="234.9" r="0.95" fill="#34508f" stroke="#101830" stroke-width="0.5"/>
<circle cx="238.3" cy="234.4" r="0.95" fill="#34508f" stroke="#101830" stroke-width="0.5"/>
<circle cx="239.7" cy="235.3" r="0.95" fill="#34508f" stroke="#101830" stroke-width="0.5"/>
<circle cx="241.1" cy="234.9" r="0.95" fill="#34508f" stroke="#101830" stroke-width="0.5"/>
<circle cx="242.6" cy="235.3" r="0.95" fill="#34508f" stroke="#101830" stroke-width="0.5"/>
<circle cx="244" cy="234.9" r="0.95" fill="#34508f" stroke="#101830" stroke-width="0.5"/>
<circle cx="237.8" cy="237.2" r="0.95" fill="#34508f" stroke="#101830" stroke-width="0.5"/>
<circle cx="239.3" cy="237.7" r="0.95" fill="#34508f" stroke="#101830" stroke-width="0.5"/>
<circle cx="240.7" cy="236.8" r="0.95" fill="#34508f" stroke="#101830" stroke-width="0.5"/>
<circle cx="242.1" cy="237.7" r="0.95" fill="#34508f" stroke="#101830" stroke-width="0.5"/>
<circle cx="237.4" cy="240.5" r="0.95" fill="#34508f" stroke="#101830" stroke-width="0.5"/>
<circle cx="238.8" cy="242" r="0.95" fill="#34508f" stroke="#101830" stroke-width="0.5"/>
<circle cx="240.2" cy="240.5" r="0.95" fill="#34508f" stroke="#101830" stroke-width="0.5"/>
<circle cx="241.1" cy="242.4" r="0.95" fill="#34508f" stroke="#101830" stroke-width="0.5"/>
<circle cx="239.3" cy="243.4" r="0.95" fill="#34508f" stroke="#101830" stroke-width="0.5"/>
<circle cx="245.9" cy="233.4" r="0.95" fill="#34508f" stroke="#101830" stroke-width="0.5"/>
<circle cx="247.3" cy="232.5" r="0.95" fill="#34508f" stroke="#101830" stroke-width="0.5"/>
<circle cx="248.7" cy="233" r="0.95" fill="#34508f" stroke="#101830" stroke-width="0.5"/>
<circle cx="250.1" cy="233.4" r="0.95" fill="#34508f" stroke="#101830" stroke-width="0.5"/>
<circle cx="251.6" cy="232" r="0.95" fill="#34508f" stroke="#101830" stroke-width="0.5"/>
<circle cx="253" cy="233.9" r="0.95" fill="#34508f" stroke="#101830" stroke-width="0.5"/>
<circle cx="253.9" cy="235.3" r="0.95" fill="#34508f" stroke="#101830" stroke-width="0.5"/>
<circle cx="254.9" cy="236.8" r="0.95" fill="#34508f" stroke="#101830" stroke-width="0.5"/>
<circle cx="245.4" cy="235.8" r="0.95" fill="#34508f" stroke="#101830" stroke-width="0.5"/>
<circle cx="246.8" cy="236.8" r="0.95" fill="#34508f" stroke="#101830" stroke-width="0.5"/>
<circle cx="248.2" cy="235.3" r="0.95" fill="#34508f" stroke="#101830" stroke-width="0.5"/>
<circle cx="249.7" cy="236.3" r="0.95" fill="#34508f" stroke="#101830" stroke-width="0.5"/>
<circle cx="251.1" cy="235.3" r="0.95" fill="#34508f" stroke="#101830" stroke-width="0.5"/>
<circle cx="252.5" cy="236.8" r="0.95" fill="#34508f" stroke="#101830" stroke-width="0.5"/>
<circle cx="244.5" cy="238.7" r="0.95" fill="#34508f" stroke="#101830" stroke-width="0.5"/>
<circle cx="245.9" cy="239.6" r="0.95" fill="#34508f" stroke="#101830" stroke-width="0.5"/>
<circle cx="247.3" cy="238.7" r="0.95" fill="#34508f" stroke="#101830" stroke-width="0.5"/>
<circle cx="248.7" cy="239.6" r="0.95" fill="#34508f" stroke="#101830" stroke-width="0.5"/>
<circle cx="250.1" cy="238.7" r="0.95" fill="#34508f" stroke="#101830" stroke-width="0.5"/>
<circle cx="251.6" cy="240.1" r="0.95" fill="#34508f" stroke="#101830" stroke-width="0.5"/>
<circle cx="253" cy="239.1" r="0.95" fill="#34508f" stroke="#101830" stroke-width="0.5"/>
<circle cx="254.4" cy="238.7" r="0.95" fill="#34508f" stroke="#101830" stroke-width="0.5"/>
<circle cx="245.4" cy="241" r="0.95" fill="#34508f" stroke="#101830" stroke-width="0.5"/>
<circle cx="247.8" cy="241.5" r="0.95" fill="#34508f" stroke="#101830" stroke-width="0.5"/>
<circle cx="249.2" cy="242.4" r="0.95" fill="#34508f" stroke="#101830" stroke-width="0.5"/>
<circle cx="251.1" cy="242.4" r="0.95" fill="#34508f" stroke="#101830" stroke-width="0.5"/>
<circle cx="252.5" cy="242" r="0.95" fill="#34508f" stroke="#101830" stroke-width="0.5"/>
<circle cx="278.5" cy="194.6" r="0.95" fill="#34508f" stroke="#101830" stroke-width="0.5"/>
<circle cx="282.4" cy="199.1" r="0.95" fill="#34508f" stroke="#101830" stroke-width="0.5"/>
<circle cx="284.8" cy="200.8" r="0.95" fill="#34508f" stroke="#101830" stroke-width="0.5"/>
<circle cx="282" cy="202.1" r="0.95" fill="#34508f" stroke="#101830" stroke-width="0.5"/>
<circle cx="281.5" cy="203.8" r="0.95" fill="#34508f" stroke="#101830" stroke-width="0.5"/>
<circle cx="276" cy="203.8" r="0.95" fill="#34508f" stroke="#101830" stroke-width="0.5"/>
<circle cx="275.1" cy="205.5" r="0.95" fill="#34508f" stroke="#101830" stroke-width="0.5"/>
<circle cx="274.3" cy="206.6" r="0.95" fill="#34508f" stroke="#101830" stroke-width="0.5"/>
<circle cx="272.1" cy="209.9" r="0.95" fill="#34508f" stroke="#101830" stroke-width="0.5"/>
<circle cx="273.2" cy="209.3" r="0.95" fill="#34508f" stroke="#101830" stroke-width="0.5"/>
<circle cx="280.9" cy="208.8" r="0.95" fill="#34508f" stroke="#101830" stroke-width="0.5"/>
<circle cx="282.6" cy="211" r="0.95" fill="#34508f" stroke="#101830" stroke-width="0.5"/>
<circle cx="278.2" cy="211" r="0.95" fill="#34508f" stroke="#101830" stroke-width="0.5"/>
<circle cx="278.2" cy="212.6" r="0.95" fill="#34508f" stroke="#101830" stroke-width="0.5"/>
<circle cx="274.6" cy="214.1" r="0.95" fill="#34508f" stroke="#101830" stroke-width="0.5"/>
<circle cx="263.3" cy="210.4" r="0.95" fill="#34508f" stroke="#101830" stroke-width="0.5"/>
<circle cx="266" cy="212.1" r="0.95" fill="#34508f" stroke="#101830" stroke-width="0.5"/>
<circle cx="264.1" cy="215.6" r="0.95" fill="#34508f" stroke="#101830" stroke-width="0.5"/>
<circle cx="269.1" cy="219.2" r="0.95" fill="#34508f" stroke="#101830" stroke-width="0.5"/>
<circle cx="260" cy="221.8" r="0.95" fill="#34508f" stroke="#101830" stroke-width="0.5"/>
<circle cx="310.3" cy="186.4" r="0.95" fill="#34508f" stroke="#101830" stroke-width="0.5"/>
<circle cx="278.8" cy="194.6" r="0.95" fill="#34508f" stroke="#101830" stroke-width="0.5"/>
<circle cx="292" cy="196.1" r="0.95" fill="#34508f" stroke="#101830" stroke-width="0.5"/>
<circle cx="295.8" cy="200.9" r="0.95" fill="#34508f" stroke="#101830" stroke-width="0.5"/>
<circle cx="282.6" cy="199.7" r="0.95" fill="#34508f" stroke="#101830" stroke-width="0.5"/>
<circle cx="284.5" cy="200.5" r="0.95" fill="#34508f" stroke="#101830" stroke-width="0.5"/>
<circle cx="281.9" cy="202.8" r="0.95" fill="#34508f" stroke="#101830" stroke-width="0.5"/>
<circle cx="281.3" cy="204.1" r="0.95" fill="#34508f" stroke="#101830" stroke-width="0.5"/>
<circle cx="275.6" cy="204.1" r="0.95" fill="#34508f" stroke="#101830" stroke-width="0.5"/>
<circle cx="280.7" cy="208.5" r="0.95" fill="#34508f" stroke="#101830" stroke-width="0.5"/>
<text x="200.7" y="290.1" font-size="7.2" fill="#000" stroke="#000" stroke-width="0.22" textLength="62.2" lengthAdjust="spacingAndGlyphs">MDA : 1281 ± 48 Ma</text>
<line x1="201.3" y1="296.4" x2="321.8" y2="296.4" stroke="#111" stroke-width="0.95"/>
<line x1="201.30" y1="296.4" x2="201.30" y2="298.7" stroke="#222" stroke-width="0.7"/>
<text x="201.30" y="305.9" font-size="4.2" fill="#000" stroke="#000" stroke-width="0.12" text-anchor="middle">0</text>
<line x1="225.40" y1="296.4" x2="225.40" y2="298.7" stroke="#222" stroke-width="0.7"/>
<text x="225.40" y="305.9" font-size="4.2" fill="#000" stroke="#000" stroke-width="0.12" text-anchor="middle">50</text>
<line x1="249.50" y1="296.4" x2="249.50" y2="298.7" stroke="#222" stroke-width="0.7"/>
<text x="249.50" y="305.9" font-size="4.2" fill="#000" stroke="#000" stroke-width="0.12" text-anchor="middle">100</text>
<line x1="273.60" y1="296.4" x2="273.60" y2="298.7" stroke="#222" stroke-width="0.7"/>
<text x="273.60" y="305.9" font-size="4.2" fill="#000" stroke="#000" stroke-width="0.12" text-anchor="middle">150</text>
<line x1="297.70" y1="296.4" x2="297.70" y2="298.7" stroke="#222" stroke-width="0.7"/>
<text x="297.70" y="305.9" font-size="4.2" fill="#000" stroke="#000" stroke-width="0.12" text-anchor="middle">200</text>
<line x1="321.80" y1="296.4" x2="321.80" y2="298.7" stroke="#222" stroke-width="0.7"/>
<text x="321.80" y="305.9" font-size="4.2" fill="#000" stroke="#000" stroke-width="0.12" text-anchor="middle">250</text>
<text x="268.3" y="316.2" font-size="8.2" fill="#111" stroke="#111" stroke-width="0.2" textLength="9" lengthAdjust="spacingAndGlyphs">t/σ</text>
</svg>
</body></html>
